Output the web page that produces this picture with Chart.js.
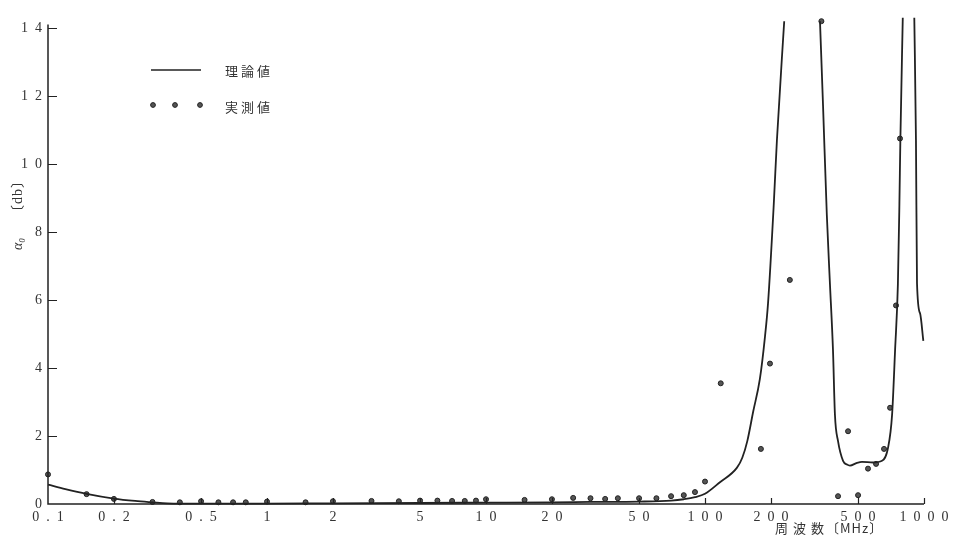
<!DOCTYPE html>
<html>
<head>
<meta charset="utf-8">
<script src="https://cdn.jsdelivr.net/npm/chart.js@4/dist/chart.umd.min.js"></script>
<style>
  html, body { margin: 0; padding: 0; background: #fff; }
  #wrap { width: 954px; height: 540px; position: relative; }
</style>
</head>
<body>
<div id="wrap"><canvas id="c"></canvas></div>
<script>
// Axis ticks
const xTickValues = [0.1, 0.2, 0.5, 1, 2, 5, 10, 20, 50, 100, 200, 500, 1000];
const xTickLabels = ['0.1', '0.2', '0.5', '1', '2', '5', '10', '20', '50', '100', '200', '500', '1000'];
const yTickValues = [0, 2, 4, 6, 8, 10, 12, 14];
const yTickLabels = ['0', '2', '4', '6', '8', '10', '12', '14'];

// 理論値 (theoretical attenuation); null breaks the curve where it leaves the plot
const theoryFreq = [0.1, 0.12, 0.15, 0.2, 0.25, 0.3, 0.35, 0.5, 1, 2, 5, 10, 20, 30, 50, 70, 80, 90, 100,
  117, 140, 148, 156, 166, 178, 188, 194, 206, 213, 230,
  280,
  335, 346, 360, 372, 384, 392, 405, 427, 445, 459, 494, 521, 585, 643, 685, 715, 738, 760, 772, 780, 800,
  850,
  903, 919, 929, 960, 993];
const theoryAtten = [0.57, 0.44, 0.3, 0.16, 0.09, 0.05, 0.02, 0.01, 0.01, 0.02, 0.03, 0.04, 0.05, 0.06, 0.07, 0.1, 0.14, 0.2, 0.3,
  0.64, 1.07, 1.36, 1.85, 2.72, 3.67, 4.94, 5.9, 8.8, 10.7, 14.2,
  null,
  14.2, 11.7, 8.5, 6.47, 4.54, 2.63, 1.85, 1.27, 1.16, 1.13, 1.21, 1.24, 1.22, 1.27, 1.65, 2.63, 4.54, 6.47, 8.8, 10.7, 14.3,
  null,
  14.3, 10.7, 6.5, 5.6, 4.8];

// 実測値 (measured attenuation)
const measFreq = [0.1, 0.15, 0.2, 0.3, 0.4, 0.5, 0.6, 0.7, 0.8, 1, 1.5, 2, 3, 4, 5, 6, 7, 8, 9, 10,
  15, 20, 25, 30, 35, 40, 50, 60, 70, 80, 90, 100, 118, 180, 198, 244, 340,
  405, 450, 500, 555, 604, 657, 700, 745, 777];
const measAtten = [0.87, 0.29, 0.15, 0.06, 0.05, 0.08, 0.05, 0.05, 0.05, 0.07, 0.05, 0.08, 0.09, 0.08, 0.1, 0.1, 0.09, 0.09, 0.1, 0.14,
  0.12, 0.14, 0.18, 0.17, 0.15, 0.17, 0.17, 0.17, 0.23, 0.26, 0.35, 0.66, 3.55, 1.62, 4.13, 6.59, 14.2,
  0.23, 2.14, 0.26, 1.04, 1.18, 1.62, 2.83, 5.84, 10.75];

const INK = '#222';
const TEXT = '#333';
const SERIF = '"Liberation Serif", "DejaVu Serif", "Noto Sans CJK JP", serif';
const JP = '"Noto Sans CJK JP", sans-serif';

// digits are set wide apart, as in typeset tables
const spaced = s => s.split('').join('\u2002');

const theoryPts = theoryFreq.map((f, i) => ({ x: f, y: theoryAtten[i] }));
const measPts = measFreq.map((f, i) => ({ x: f, y: measAtten[i] }));

const decor = {
  id: 'decor',
  afterDraw(chart) {
    const ctx = chart.ctx;
    const xs = chart.scales.x, ys = chart.scales.y;
    const left = xs.left, right = xs.right, bottom = ys.bottom;
    ctx.save();
    ctx.strokeStyle = INK;
    ctx.lineWidth = 1.5;
    // axis lines
    ctx.beginPath();
    ctx.moveTo(left, ys.getPixelForValue(14.1));
    ctx.lineTo(left, bottom);
    ctx.lineTo(right, bottom);
    ctx.stroke();
    // inward tick marks
    ctx.lineWidth = 1.2;
    ctx.beginPath();
    yTickValues.forEach(v => {
      if (v === 0) return;
      const py = Math.round(ys.getPixelForValue(v)) + 0.5;
      ctx.moveTo(left, py);
      ctx.lineTo(left + 9, py);
    });
    xTickValues.forEach(v => {
      if (v === 0.1) return;
      const px = Math.round(xs.getPixelForValue(v)) + 0.5;
      ctx.moveTo(px, bottom);
      ctx.lineTo(px, bottom - 6);
    });
    ctx.stroke();

    ctx.fillStyle = TEXT;
    ctx.textBaseline = 'middle';
    // y axis title, read bottom to top
    ctx.save();
    ctx.translate(18, 0);
    ctx.rotate(-Math.PI / 2);
    ctx.textAlign = 'center';
    ctx.font = 'italic 14px ' + SERIF;
    ctx.fillText('α₀', -244, 0);
    ctx.font = '14px ' + SERIF;
    if ('letterSpacing' in ctx) ctx.letterSpacing = '1px';
    ctx.fillText('〔db〕', -196, 0);
    ctx.restore();

    // x axis title
    ctx.textAlign = 'left';
    ctx.font = '13px ' + JP;
    if ('letterSpacing' in ctx) ctx.letterSpacing = '5px';
    ctx.fillText('周波数', 775, 528);
    if ('letterSpacing' in ctx) ctx.letterSpacing = '1px';
    ctx.fillText('〔MHz〕', 826, 528);

    // legend
    ctx.textAlign = 'left';
    ctx.font = '13px ' + JP;
    if ('letterSpacing' in ctx) ctx.letterSpacing = '3px';
    ctx.lineWidth = 1.6;
    ctx.beginPath();
    ctx.moveTo(151, 70);
    ctx.lineTo(201, 70);
    ctx.stroke();
    ctx.fillText('理論値', 225, 71);
    [153, 175, 200].forEach(px => {
      ctx.beginPath();
      ctx.arc(px, 105, 2.4, 0, Math.PI * 2);
      ctx.fillStyle = '#555';
      ctx.fill();
      ctx.lineWidth = 1;
      ctx.stroke();
    });
    ctx.fillStyle = TEXT;
    ctx.fillText('実測値', 225, 107);
    ctx.restore();
  }
};

new Chart(document.getElementById('c'), {
  type: 'line',
  data: {
    datasets: [
      {
        label: '理論値',
        data: theoryPts,
        borderColor: INK,
        borderWidth: 1.8,
        pointRadius: 0,
        spanGaps: false,
        cubicInterpolationMode: 'monotone',
        clip: false
      },
      {
        label: '実測値',
        data: measPts,
        showLine: false,
        pointRadius: 2.5,
        pointBackgroundColor: '#555',
        pointBorderColor: INK,
        pointBorderWidth: 1,
        clip: false
      }
    ]
  },
  options: {
    responsive: true,
    maintainAspectRatio: false,
    animation: false,
    layout: { padding: { left: 0, right: 30, top: 5, bottom: 0 } },
    plugins: { legend: { display: false }, tooltip: { enabled: false } },
    scales: {
      x: {
        type: 'logarithmic',
        min: 0.1,
        max: 1000,
        afterBuildTicks: s => { s.ticks = xTickValues.map(v => ({ value: v })); },
        afterFit: s => { s.height = 36; },
        grid: { display: false, drawTicks: false },
        border: { display: false },
        ticks: {
          autoSkip: false,
          maxRotation: 0,
          padding: 5,
          color: TEXT,
          font: { family: SERIF, size: 14 },
          callback: (v, i) => spaced(xTickLabels[i])
        }
      },
      y: {
        type: 'linear',
        min: 0,
        max: 14.4,
        afterBuildTicks: s => { s.ticks = yTickValues.map(v => ({ value: v })); },
        afterFit: s => { s.width = 48; },
        grid: { display: false, drawTicks: false },
        border: { display: false },
        ticks: {
          padding: 6,
          color: TEXT,
          font: { family: SERIF, size: 14 },
          callback: (v, i) => spaced(yTickLabels[i])
        }
      }
    }
  },
  plugins: [decor]
});
</script>
</body>
</html>
